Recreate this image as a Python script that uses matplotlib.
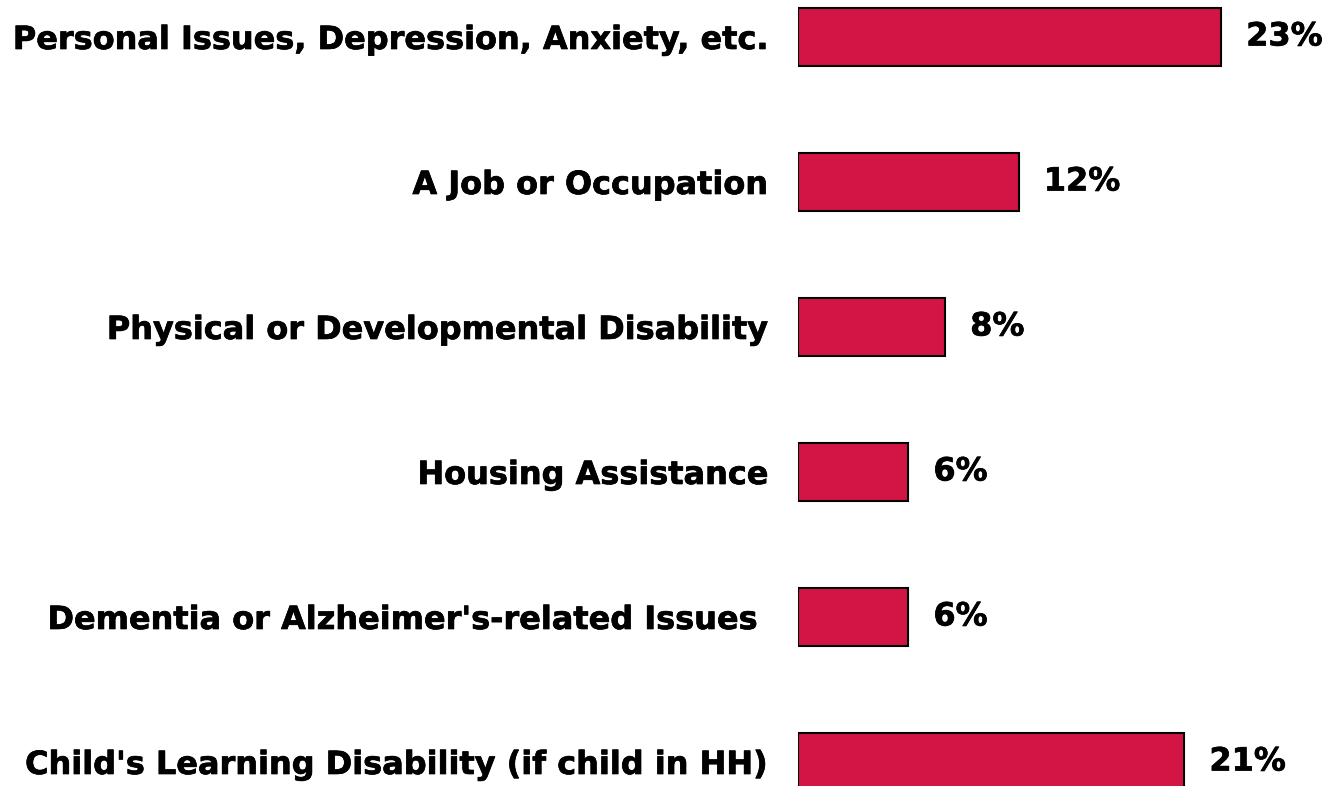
import matplotlib.pyplot as plt
import matplotlib.patheffects as pe

# Datos
categorias = [
    "Personal Issues, Depression, Anxiety, etc.",
    "A Job or Occupation",
    "Physical or Developmental Disability",
    "Housing Assistance",
    "Dementia or Alzheimer's-related Issues ",
    "Child's Learning Disability (if child in HH)",
]
valores = [23, 12, 8, 6, 6, 21]
etiquetas = ["23%", "12%", "8%", "6%", "6%", "21%"]

plt.rcParams['font.family'] = ['DejaVu Sans']

fig = plt.figure(figsize=(13.34, 7.86), dpi=100)
ax = fig.add_axes([798 / 1334, 0, 1 - 798 / 1334, 1])

pos = list(range(len(categorias)))
ax.barh(pos, valores, height=0.4, color='#D31545', edgecolor='black', linewidth=1.5)

ax.set_xlim(0, 536 / 18.4)
ax.set_ylim((786 - 37) / 145, -37 / 145)

# trazo extra para imitar la negrita pesada
grueso = [pe.withStroke(linewidth=0.5, foreground='black')]

# Etiquetas de categorias
ax.set_yticks(pos)
ax.set_yticklabels(categorias, fontsize=23, fontweight='bold')
for lbl in ax.get_yticklabels():
    lbl.set_path_effects(grueso)
ax.tick_params(axis='y', length=0, pad=21)
ax.set_xticks([])

# Valores
for p, v, t in zip(pos, valores, etiquetas):
    ax.annotate(t, xy=(v, p), xytext=(18, 0), textcoords='offset points',
                va='center', ha='left', fontsize=23, fontweight='bold',
                path_effects=grueso)

for s in ax.spines.values():
    s.set_visible(False)

plt.savefig('out.png', dpi=100)
plt.close()
